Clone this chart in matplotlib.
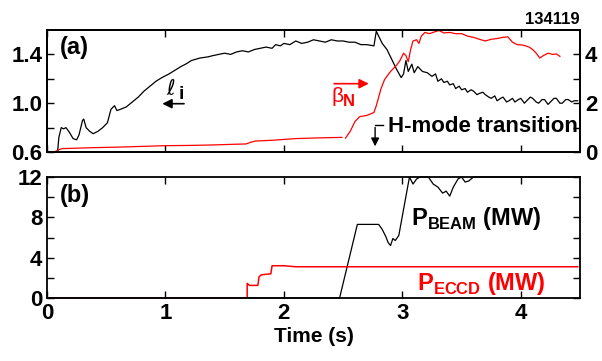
import numpy as np
import matplotlib
matplotlib.use("Agg")
import matplotlib.pyplot as plt
from matplotlib.ticker import MultipleLocator, FixedLocator

plt.rcParams['font.family'] = ['Liberation Sans', 'DejaVu Sans']
plt.rcParams['font.weight'] = 'bold'
plt.rcParams['mathtext.fontset'] = 'custom'
plt.rcParams['mathtext.rm'] = 'Liberation Sans'
plt.rcParams['mathtext.bf'] = 'Liberation Sans:bold'

# internal inductance l_i (left axis, panel a)
li_t = [0.05, 0.09, 0.10, 0.12, 0.14, 0.16, 0.19, 0.22, 0.25, 0.27, 0.30, 0.31, 0.33, 0.36,
        0.39, 0.43, 0.47, 0.51, 0.54, 0.57, 0.59, 0.62, 0.67, 0.72, 0.77, 0.82, 0.87, 0.92,
        0.97, 1.03, 1.08, 1.13, 1.17, 1.22, 1.29, 1.36, 1.40, 1.45, 1.50, 1.55, 1.60, 1.65,
        1.70, 1.75, 1.80, 1.85, 1.90, 1.93, 1.97, 2.00, 2.05, 2.10, 2.15, 2.20, 2.25, 2.30,
        2.35, 2.40, 2.45, 2.50, 2.55, 2.60, 2.65, 2.70, 2.76, 2.78, 2.80, 2.83, 2.87, 2.91,
        2.95, 2.99, 3.01, 3.03, 3.05, 3.08, 3.10, 3.13, 3.17, 3.21, 3.25, 3.28, 3.30, 3.33,
        3.35, 3.38, 3.40, 3.43, 3.45, 3.48, 3.50, 3.53, 3.55, 3.58, 3.60, 3.63, 3.65, 3.68,
        3.70, 3.73, 3.75, 3.78, 3.80, 3.83, 3.85, 3.88, 3.90, 3.93, 3.95, 3.98, 4.00, 4.03,
        4.05, 4.08, 4.10, 4.13, 4.15, 4.18, 4.20, 4.23, 4.25, 4.28, 4.30, 4.33, 4.35, 4.38,
        4.40, 4.43, 4.45, 4.48]
li_v = [0.60, 0.61, 0.72, 0.80, 0.79, 0.80, 0.76, 0.71, 0.70, 0.74, 0.86, 0.87, 0.80, 0.77,
        0.75, 0.77, 0.80, 0.84, 0.95, 0.98, 0.94, 0.95, 0.97, 1.01, 1.05, 1.10, 1.14, 1.18,
        1.21, 1.24, 1.27, 1.30, 1.32, 1.35, 1.37, 1.38, 1.39, 1.40, 1.41, 1.40, 1.42, 1.43,
        1.42, 1.44, 1.45, 1.46, 1.45, 1.48, 1.47, 1.49, 1.48, 1.51, 1.49, 1.50, 1.52, 1.51,
        1.50, 1.52, 1.51, 1.51, 1.50, 1.50, 1.48, 1.48, 1.47, 1.59, 1.55, 1.49, 1.44, 1.36,
        1.28, 1.21, 1.24, 1.35, 1.26, 1.32, 1.25, 1.30, 1.26, 1.25, 1.22, 1.24, 1.18, 1.20,
        1.17, 1.18, 1.15, 1.16, 1.12, 1.14, 1.11, 1.12, 1.09, 1.11, 1.10, 1.07, 1.08, 1.09,
        1.07, 1.05, 1.04, 1.06, 1.02, 1.04, 1.05, 1.01, 1.02, 1.04, 1.01, 1.03, 1.04, 1.00,
        1.02, 1.05, 1.04, 1.01, 1.00, 1.03, 1.03, 0.99, 1.01, 1.04, 1.04, 1.00, 1.00, 1.03,
        1.03, 1.01, 1.02, 1.02]

# normalised beta (right axis, panel a), gap marked by nan
bn_t = [0.08, 0.10, 0.13, 0.20, 0.40, 0.60, 0.80, 1.00, 1.20, 1.40, 1.60, 1.68, 1.72, 1.76,
        1.90, 2.10, 2.30, 2.49, 2.50, 2.52, 2.56, 2.60, 2.64, 2.70, 2.76, 2.78, 2.82, 2.85,
        2.90, 2.95, 2.98, 3.01, 3.03, 3.05, 3.07, 3.09, 3.12, 3.14, 3.16, 3.19, 3.23, 3.27,
        3.31, 3.35, 3.40, 3.45, 3.50, 3.55, 3.60, 3.65, 3.70, 3.75, 3.80, 3.85, 3.89, 3.93,
        3.97, 4.02, 4.07, 4.10, 4.13, 4.16, 4.19, 4.23, 4.27, 4.30, 4.33]
bn_v = [0.02, 0.10, 0.14, 0.15, 0.18, 0.20, 0.23, 0.26, 0.27, 0.29, 0.32, 0.33, 0.40, 0.45,
        0.48, 0.55, 0.58, 0.60, np.nan, 0.57, 0.85, 1.25, 1.45, 1.50, 1.62, 1.90, 2.60, 2.97,
        3.30, 3.55, 3.75, 4.05, 3.95, 3.70, 4.20, 4.55, 4.60, 4.45, 4.75, 4.90, 4.85, 4.92,
        4.98, 4.88, 4.90, 4.85, 4.85, 4.75, 4.70, 4.62, 4.55, 4.62, 4.65, 4.70, 4.72, 4.50,
        4.40, 4.38, 4.30, 4.20, 4.05, 3.85, 3.95, 4.05, 4.00, 4.02, 3.92]

# powers (panel b)
pb_t = [0.0, 2.47, 2.62, 2.80, 2.83, 2.86, 2.88, 2.90, 2.92, 2.94, 2.97, 3.06, 3.09, 3.12,
        3.15, 3.22, 3.26, 3.30, 3.34, 3.37, 3.40, 3.43, 3.47, 3.50, 3.53, 3.56, 3.60, 4.48]
pb_v = [0.0, 0.0, 7.3, 7.3, 6.8, 6.1, 5.5, 5.2, 5.9, 5.7, 6.2, 12.0, 11.3, 11.8,
        12.0, 12.0, 11.3, 11.0, 10.4, 10.6, 10.1, 11.0, 11.8, 12.0, 11.5, 11.6, 12.0, 12.0]

pe_t = [0.0, 1.69, 1.69, 1.71, 1.78, 1.79, 1.81, 1.89, 1.90, 2.00, 2.10, 3.00, 4.48]
pe_v = [0.0, 0.0, 1.45, 1.25, 1.25, 2.10, 2.30, 2.40, 3.20, 3.20, 3.10, 3.10, 3.10]

fig = plt.figure(figsize=(6.02, 3.61), dpi=100)
ax1 = fig.add_axes([0.0781, 0.5789, 0.8854, 0.338])
ax2 = ax1.twinx()
ax3 = fig.add_axes([0.0781, 0.1745, 0.8854, 0.3352])

tick_fs = 16
for a in (ax1, ax2, ax3):
    for s in a.spines.values():
        s.set_linewidth(1.3)
    a.tick_params(direction='in', length=5, width=1.0, labelsize=tick_fs, which='both')

ax1.plot(li_t, li_v, color='black', lw=0.9)
ax2.plot(bn_t, bn_v, color='red', lw=0.9)
ax1.set_xlim(0, 4.5)
ax1.set_ylim(0.6, 1.6)
ax2.set_ylim(0, 5)
ax1.yaxis.set_major_locator(FixedLocator([0.6, 1.0, 1.4]))
ax1.yaxis.set_minor_locator(FixedLocator([0.8, 1.2]))
ax2.yaxis.set_major_locator(FixedLocator([0, 2, 4]))
ax2.yaxis.set_minor_locator(FixedLocator([1, 3]))
ax1.xaxis.set_major_locator(MultipleLocator(1))
ax1.tick_params(axis='x', top=True, bottom=True, labelbottom=False)
ax1.tick_params(axis='y', left=True, right=False)

ax3.plot(pb_t, pb_v, color='black', lw=0.9, clip_on=False)
ax3.plot(pe_t, pe_v, color='red', lw=1.1)
ax3.set_xlim(0, 4.5)
ax3.set_ylim(0, 12)
ax3.yaxis.set_major_locator(FixedLocator([0, 4, 8, 12]))
ax3.yaxis.set_minor_locator(FixedLocator([2, 6, 10]))
ax3.xaxis.set_major_locator(MultipleLocator(1))
ax3.tick_params(top=True, right=True, which='both')
ax3.set_xlabel('Time (s)', fontsize=15, fontweight='bold', labelpad=2)

# annotations
ax1.text(0.11, 1.458, '(a)', fontsize=17, va='center', ha='left')
ax3.text(0.11, 10.2, '(b)', fontsize=17, va='center', ha='left')
fig.text(580 / 602, 1 - 20 / 361, '134119', fontsize=12, ha='right', va='center')

ax1.text(1.01, 1.07, '\u2113', fontsize=15, family=['DejaVu Serif', 'DejaVu Sans'],
         style='italic', fontweight='normal', va='baseline')
ax1.text(1.11, 1.035, 'i', fontsize=14, va='baseline')
ax1.annotate('', xy=(0.95, 0.996), xytext=(1.18, 0.996),
             arrowprops=dict(arrowstyle='-|>', color='black', lw=1.2, mutation_scale=14))

ax2.text(2.40, 2.05, '\u03b2', fontsize=15, color='red', fontweight='normal', va='baseline')
ax2.text(2.495, 1.9, 'N', fontsize=12, color='red', va='baseline')
ax2.annotate('', xy=(2.74, 2.8), xytext=(2.40, 2.8),
             arrowprops=dict(arrowstyle='-|>', color='red', lw=1.2, mutation_scale=14))

ax2.text(2.88, 1.03, 'H-mode transition', fontsize=16, va='center', ha='left')
ax2.annotate('', xy=(2.77, 0.12), xytext=(2.77, 1.12),
             arrowprops=dict(arrowstyle='-|>', color='black', lw=1.0, mutation_scale=12))
ax2.plot([2.77, 2.84], [1.12, 1.12], color='black', lw=1.0)

ax3.text(3.07, 7.24, r'P$_{\mathbf{BEAM}}$ (MW)', fontsize=17, va='baseline')
ax3.text(3.12, 0.8, r'P$_{\mathbf{ECCD}}$ (MW)', fontsize=17, va='baseline', color='red')

plt.savefig('out.png', dpi=100)
